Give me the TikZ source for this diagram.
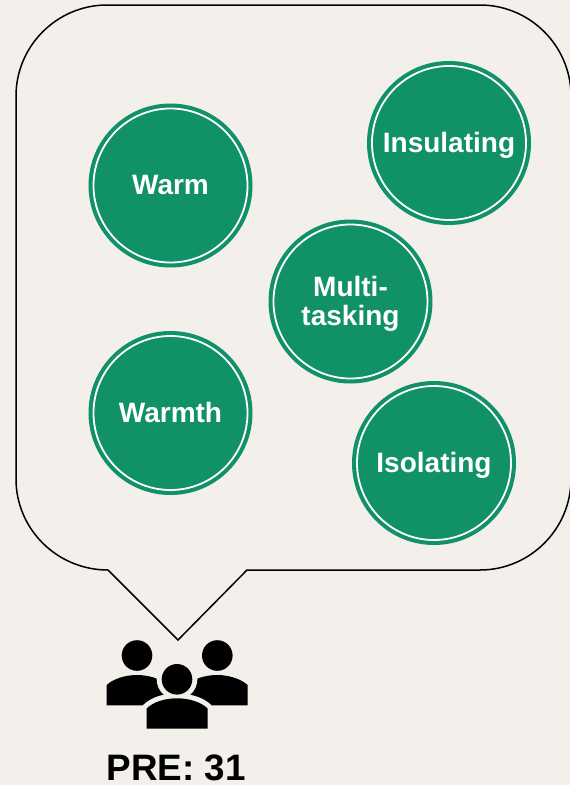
\documentclass[tikz,border=0pt]{standalone}
\usepackage{fontspec}
\setmainfont{Liberation Sans}
\definecolor{bg}{HTML}{F3F0EB}
\definecolor{grn}{HTML}{119168}
\tikzset{
  x=1pt,y=-1pt,
  ballfont/.style={text=white,font=\fontsize{28}{29}\selectfont\bfseries,align=center,inner sep=0pt},
  ball/.style={circle,fill=grn,draw=none,minimum size=164pt,inner sep=0pt,ballfont,text height=19.4pt,text depth=0pt,
    path picture={\draw[white,line width=1.8pt] (path picture bounding box.center) circle[radius=77pt];}},
  bubble/.style={draw=black,line width=1.5pt,line join=miter},
  ppl/.style={fill=black,draw=none},
  halo/.style={fill=bg,draw=bg,line width=10pt,line join=round}
}
\begin{document}
\begin{tikzpicture}
\useasboundingbox (0,0) rectangle (570,785);
\fill[bg] (0,0) rectangle (570,785);
\coordinate (tl) at (108,570);
\coordinate (tip) at (178,640);
\coordinate (tr) at (247,570);
\draw[bubble] (tl) -- (tip) -- (tr) -- (480,570)
  .. controls (530,570) and (571,529) .. (571,479) -- (571,96)
  .. controls (571,46) and (530,5) .. (480,5) -- (107,5)
  .. controls (57,5) and (16,46) .. (16,96) -- (16,479)
  .. controls (16,529) and (57,570) .. (108,570);
\node[ball] (warm) at (170.5,185.5) {\raisebox{0.6pt}{Warm}};
\node[ball] (ins) at (449,143) {Insulating};
\node[ball] (multi) at (350.5,301.5) {};
\node[ballfont] (multilabel) at (350.5,304.2) {Multi-\\tasking};
\node[ball] (warmth) at (170.5,413) {\raisebox{0.7pt}{Warmth}};
\node[ball] (iso) at (434,463) {Isolating};
% people icon
\fill[ppl] (137,655.5) circle[radius=15.3];
\fill[ppl] (217.3,655.5) circle[radius=15.3];
\fill[ppl] (106.7,705.3) -- (106.7,685) .. controls (113,679) and (125,675) .. (137,675) .. controls (149,675) and (161,679) .. (167.3,685) -- (167.3,705.3) -- cycle;
\fill[ppl] (187,705.3) -- (187,685) .. controls (193,679) and (205,675) .. (217.3,675) .. controls (229,675) and (241,679) .. (247.7,685) -- (247.7,705.3) -- cycle;
\fill[halo] (177,679.3) circle[radius=15.3];
\filldraw[halo] (146.7,728.7) -- (146.7,708.5) .. controls (153,702) and (165,698.3) .. (177,698.3) .. controls (189,698.3) and (201,702) .. (207.7,708.5) -- (207.7,728.7) -- cycle;
\fill[ppl] (177,679.3) circle[radius=15.3];
\fill[ppl] (146.7,728.7) -- (146.7,708.5) .. controls (153,702) and (165,698.3) .. (177,698.3) .. controls (189,698.3) and (201,702) .. (207.7,708.5) -- (207.7,728.7) -- cycle;
\node[font=\fontsize{36.8}{40}\selectfont\bfseries,text=black,inner sep=0pt,anchor=base] (pre) at (176,780.5) {PRE: 31};
\end{tikzpicture}
\end{document}
